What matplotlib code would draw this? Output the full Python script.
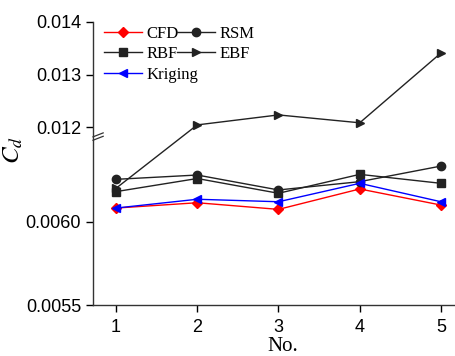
import matplotlib
matplotlib.use("Agg")
import matplotlib.pyplot as plt
import numpy as np

# data
case_no = [1, 2, 3, 4, 5]
cd_cfd = [0.006084, 0.006116, 0.006076, 0.006199, 0.006102]
cd_rsm = [0.006257, 0.006283, 0.006193, 0.006243, 0.006337]
cd_rbf = [0.006183, 0.006262, 0.006173, 0.006287, 0.006233]
cd_ebf = [0.006203, 0.012040, 0.012230, 0.012080, 0.013410]
cd_krig = [0.006084, 0.006137, 0.006122, 0.006233, 0.006122]

y_ticks = [0.0055, 0.0060, 0.012, 0.013, 0.014]
y_tick_labels = ["0.0055", "0.0060", "0.012", "0.013", "0.014"]

# broken y axis: lower band 0.0055..~0.0065, upper band ~0.0118..0.014
Y0 = 0.0055
K_LO = 166000.0
K_HI = 52500.0
BRK = 168.0
B1 = Y0 + BRK / K_LO
B2 = 0.012 - (178.0 - BRK) / K_HI


def fwd(y):
    y = np.asarray(y, dtype=float)
    return np.where(y <= B1, (y - Y0) * K_LO,
                    np.where(y >= B2, BRK + (y - B2) * K_HI, BRK))


def inv(f):
    f = np.asarray(f, dtype=float)
    return np.where(f <= BRK, Y0 + f / K_LO, B2 + (f - BRK) / K_HI)


plt.rcParams["font.family"] = "Liberation Sans"
plt.rcParams["mathtext.fontset"] = "stix"

fig = plt.figure(figsize=(4.56, 3.56), dpi=100)
ax = fig.add_axes([93 / 456, 1 - 305 / 356, 363 / 456, 283 / 356])
ax.set_yscale("function", functions=(fwd, inv))

style = dict(lw=1.0, ms=6)
l_cfd, = ax.plot(case_no, cd_cfd, color="red", marker="D", ms=5, lw=1.0, label="CFD")
l_rsm, = ax.plot(case_no, cd_rsm, color="#222222", marker="o", label="RSM", **style)
l_rbf, = ax.plot(case_no, cd_rbf, color="#222222", marker="s", label="RBF", **style)
l_ebf, = ax.plot(case_no, cd_ebf, color="#222222", marker=">", label="EBF", **style)
l_krig, = ax.plot(case_no, cd_krig, color="blue", marker="<", label="Kriging", **style)

ax.set_xlim(0.717, 5.185)
ax.set_ylim(0.0055, 0.014)
ax.set_xticks(case_no)
ax.set_yticks(y_ticks)
ax.set_yticklabels(y_tick_labels)
ax.yaxis.set_minor_locator(matplotlib.ticker.NullLocator())
ax.tick_params(direction="out", length=5, width=1, labelsize=13)
ax.tick_params(axis="x", pad=5)

for s in ("top", "right"):
    ax.spines[s].set_visible(False)
for s in ("left", "bottom"):
    ax.spines[s].set_linewidth(1.0)
    ax.spines[s].set_color("#333333")

# break marks on the left spine
bf = BRK / 283.0
for dy in (-0.0055, 0.0065):
    ax.plot([0.0, 0.028], [bf + dy - 0.006, bf + dy + 0.008],
            transform=ax.transAxes, color="#333333", lw=0.9, clip_on=False)

ax.set_xlabel("No.", family="Liberation Serif", fontsize=15)
ax.xaxis.set_label_coords(0.523, -0.113)
ax.set_ylabel("$C_d$", fontsize=18)
ax.yaxis.set_label_coords(-0.187, 0.548)

ax.legend(handles=[l_cfd, l_rbf, l_krig, l_rsm, l_ebf], ncol=2,
          loc="upper left", bbox_to_anchor=(0.228, 0.928),
          bbox_transform=fig.transFigure, frameon=False,
          prop={"family": "Liberation Serif", "size": 12},
          borderpad=0, borderaxespad=0, handlelength=2.3,
          handletextpad=0.25, columnspacing=-1.3, labelspacing=0.28)

fig.savefig("out.png", dpi=100)
